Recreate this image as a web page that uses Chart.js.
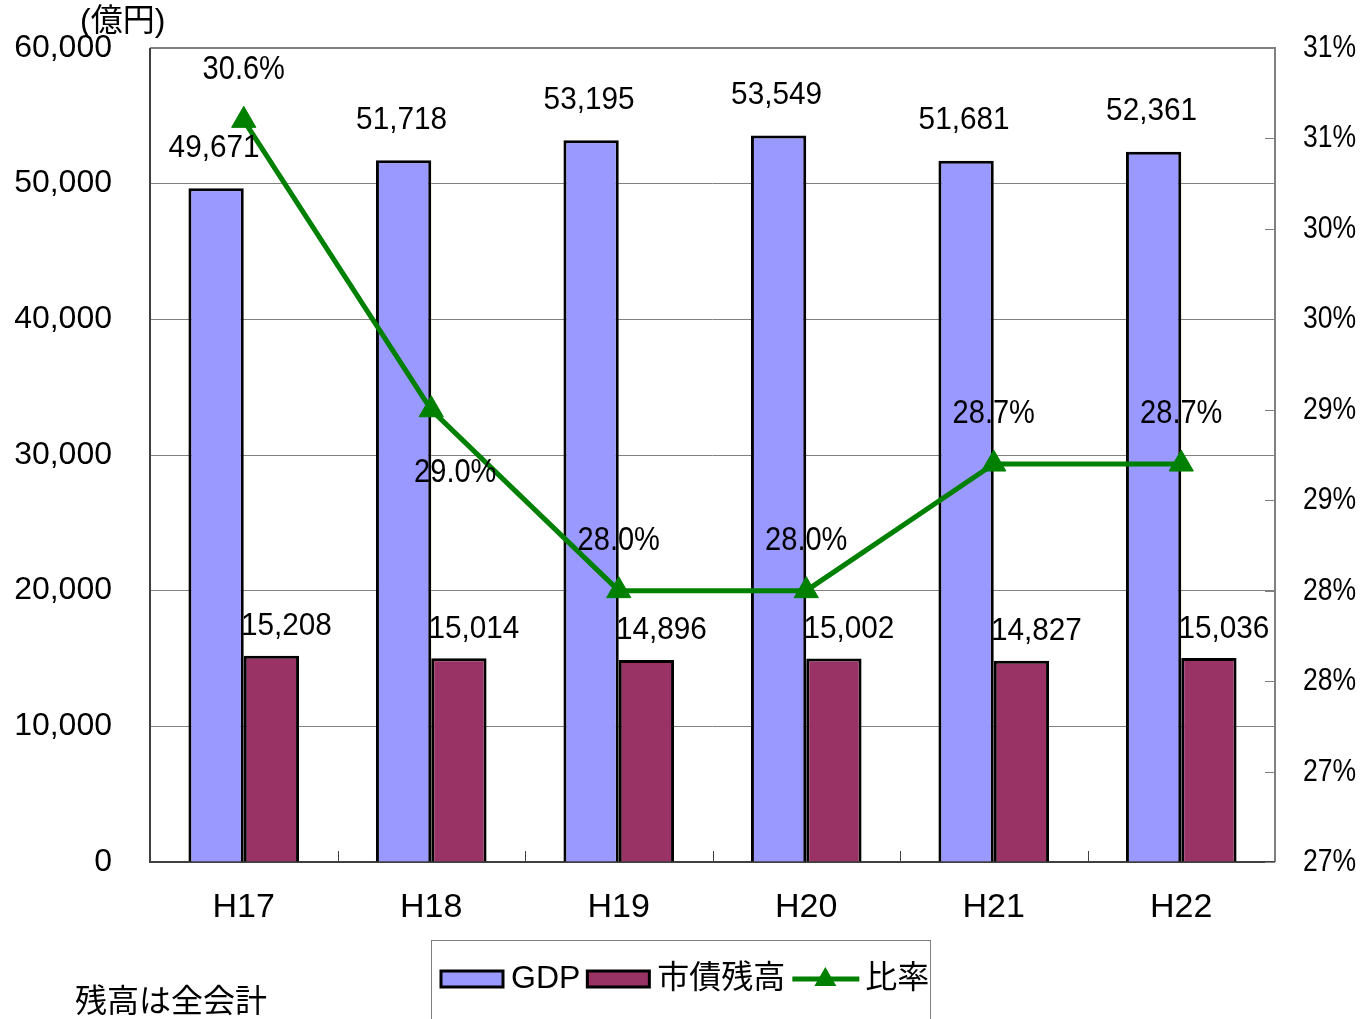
<!DOCTYPE html>
<html>
<head>
<meta charset="utf-8">
<script src="https://cdn.jsdelivr.net/npm/chart.js@4.4.0/dist/chart.umd.min.js"></script>
<style>
  body { margin: 0; background: #fff; }
  canvas { display: block; }
</style>
</head>
<body>
<canvas id="chart" width="1363" height="1019"></canvas>
<script>
// Data
const years = ['H17', 'H18', 'H19', 'H20', 'H21', 'H22'];
const gdp = [49671, 51718, 53195, 53549, 51681, 52361];
const debt = [15208, 15014, 14896, 15002, 14827, 15036];
const ratio = [30.6, 29.0, 28.0, 28.0, 28.7, 28.7];
const seriesNames = ['GDP', '市債残高', '比率'];
const unitLabel = '(億円)';
const noteLabel = '残高は全会計';

const FONT = '"Liberation Sans", Arial, "Noto Sans CJK JP", sans-serif';
const colors = { gdp: '#9999FF', debt: '#993366', ratio: '#008000' };

// draw text squeezed horizontally (the original font is narrower than Arial)
function squeezed(ctx, text, x, y, sx, align) {
    ctx.save();
    ctx.translate(x, y);
    ctx.scale(sx, 1);
    ctx.textAlign = align;
    ctx.fillText(text, 0, 0);
    ctx.restore();
}

// Frame, inner tick marks, value labels, legend and notes
const decorations = {
    id: 'decorations',
    beforeDatasetsDraw(chart) {
        const { ctx, chartArea: a, scales } = chart;
        ctx.save();
        // frame
        ctx.lineWidth = 2;
        ctx.strokeStyle = '#808080';
        ctx.beginPath();
        ctx.moveTo(a.left, a.top); ctx.lineTo(a.right, a.top); ctx.lineTo(a.right, a.bottom);
        ctx.stroke();
        ctx.strokeStyle = '#404040';
        ctx.beginPath();
        ctx.moveTo(a.left, a.top); ctx.lineTo(a.left, a.bottom); ctx.lineTo(a.right, a.bottom);
        ctx.stroke();
        // x ticks between categories, pointing up
        ctx.lineWidth = 1;
        ctx.strokeStyle = '#404040';
        for (let i = 0; i < years.length - 1; i++) {
            const x = Math.round((scales.x.getPixelForValue(i) + scales.x.getPixelForValue(i + 1)) / 2) + 0.5;
            ctx.beginPath(); ctx.moveTo(x, a.bottom); ctx.lineTo(x, a.bottom - 11); ctx.stroke();
        }
        // right axis ticks, pointing inward, with their labels
        ctx.strokeStyle = '#808080';
        ctx.fillStyle = '#000';
        ctx.font = '32px ' + FONT;
        ctx.textBaseline = 'middle';
        scales.y1.ticks.forEach(t => {
            const y = Math.round(scales.y1.getPixelForValue(t.value)) + 0.5;
            ctx.beginPath(); ctx.moveTo(a.right, y); ctx.lineTo(a.right - 10, y); ctx.stroke();
            const v = Math.round(Math.round(t.value * 10) / 10) + '%';
            squeezed(ctx, v, a.right + 28, y, 0.83, 'left');
        });
        ctx.restore();
    },
    afterDatasetsDraw(chart) {
        const { ctx } = chart;
        ctx.save();
        ctx.fillStyle = '#000';
        ctx.font = '31px ' + FONT;
        ctx.textBaseline = 'middle';
        chart.getDatasetMeta(0).data.forEach((el, i) => {
            squeezed(ctx, gdp[i].toLocaleString('en-US'), el.x - 2, el.y - 40, 0.96, 'center');
        });
        chart.getDatasetMeta(1).data.forEach((el, i) => {
            squeezed(ctx, debt[i].toLocaleString('en-US'), el.x + 15, el.y - 29, 0.96, 'center');
        });
        ctx.font = '33px ' + FONT;
        chart.getDatasetMeta(2).data.forEach((el, i) => {
            const below = i === 1;
            squeezed(ctx, ratio[i].toFixed(1) + '%', el.x + (below ? 24 : 0), el.y + (below ? 63 : -50), 0.88, 'center');
        });
        ctx.restore();
    },
    afterDraw(chart) {
        const { ctx } = chart;
        ctx.save();
        ctx.fillStyle = '#000';
        ctx.textBaseline = 'middle';
        ctx.font = '32px ' + FONT;
        ctx.fillText(unitLabel, 80, 22);
        ctx.fillText(noteLabel, 75, 1003);

        // legend box
        ctx.lineWidth = 1;
        ctx.strokeStyle = '#808080';
        ctx.strokeRect(431.5, 940.5, 499, 100);
        ctx.font = '32px ' + FONT;
        const ly = 979;
        let x = 441;
        const fills = [colors.gdp, colors.debt];
        seriesNames.forEach((name, i) => {
            if (i < 2) {
                ctx.fillStyle = fills[i];
                ctx.fillRect(x, ly - 8, 62, 16);
                ctx.lineWidth = 3;
                ctx.strokeStyle = '#000';
                ctx.strokeRect(x, ly - 8, 62, 16);
                x += 70;
            } else {
                ctx.strokeStyle = colors.ratio;
                ctx.lineWidth = 5;
                ctx.beginPath(); ctx.moveTo(x, ly); ctx.lineTo(x + 67, ly); ctx.stroke();
                ctx.fillStyle = colors.ratio;
                const cx = x + 33;
                ctx.beginPath();
                ctx.moveTo(cx, ly - 12); ctx.lineTo(cx + 11, ly + 7); ctx.lineTo(cx - 11, ly + 7);
                ctx.closePath(); ctx.fill();
                x += 73;
            }
            ctx.fillStyle = '#000';
            ctx.fillText(name, x, ly);
            x += ctx.measureText(name).width + 7;
        });
        ctx.restore();
    }
};

new Chart(document.getElementById('chart'), {
    data: {
        labels: years,
        datasets: [
            {
                type: 'bar', label: seriesNames[0], data: gdp, yAxisID: 'y', order: 1,
                backgroundColor: colors.gdp, borderColor: '#000', borderWidth: 3,
                barPercentage: 1, categoryPercentage: 0.59
            },
            {
                type: 'bar', label: seriesNames[1], data: debt, yAxisID: 'y', order: 1,
                backgroundColor: colors.debt, borderColor: '#000', borderWidth: 3,
                barPercentage: 1, categoryPercentage: 0.59
            },
            {
                type: 'line', label: seriesNames[2], data: ratio, yAxisID: 'y1', order: 0,
                borderColor: colors.ratio, backgroundColor: colors.ratio, borderWidth: 5,
                pointStyle: 'triangle', pointRadius: 14, pointHoverRadius: 14,
                pointBorderWidth: 1, tension: 0
            }
        ]
    },
    options: {
        responsive: false,
        animation: false,
        devicePixelRatio: 1,
        layout: { autoPadding: false, padding: { top: 48, bottom: 77, left: 0, right: 0 } },
        plugins: { legend: { display: false }, tooltip: { enabled: false } },
        scales: {
            x: {
                offset: true,
                grid: { display: false },
                border: { display: false },
                ticks: { color: '#000', font: { family: FONT, size: 34 }, padding: 17 },
                afterFit: s => { s.height = 80; }
            },
            y: {
                position: 'left',
                min: 0, max: 60000,
                ticks: {
                    stepSize: 10000, color: '#000', padding: 38,
                    font: { family: FONT, size: 32 },
                    callback: v => v.toLocaleString('en-US')
                },
                grid: { color: '#808080', lineWidth: 1, drawTicks: false },
                border: { display: false },
                afterFit: s => { s.width = 150; s.paddingTop = 0; s.paddingBottom = 0; }
            },
            y1: {
                position: 'right',
                min: 26.5, max: 31,
                ticks: { stepSize: 0.5, display: false },
                grid: { display: false, drawTicks: false },
                border: { display: false },
                afterFit: s => { s.width = 88; s.paddingTop = 0; s.paddingBottom = 0; }
            }
        }
    },
    plugins: [decorations]
});
</script>
</body>
</html>
